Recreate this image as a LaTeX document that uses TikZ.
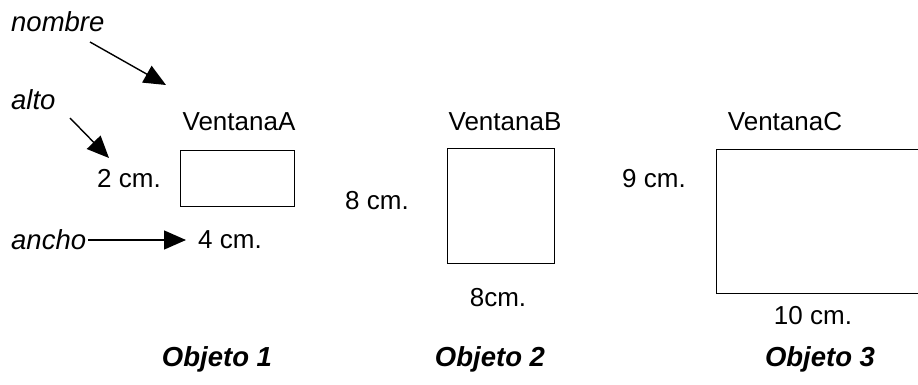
\documentclass[tikz,border=0pt]{standalone}
\usepackage{fontspec}
\setmainfont{Liberation Sans}
\usetikzlibrary{arrows.meta}
\begin{document}
\begin{tikzpicture}[x=1pt,y=-1pt,
  lbl/.style={inner sep=0pt,font=\fontsize{26}{30}\selectfont},
  ilbl/.style={inner sep=0pt,font=\fontsize{27.5}{30}\selectfont\itshape},
  obj/.style={inner sep=0pt,font=\fontsize{27.5}{30}\selectfont\bfseries\itshape},
  win/.style={draw,line width=1.4pt,inner sep=0pt,anchor=north west},
  arr/.style={line width=1.4pt,-{Triangle[length=22pt,width=19pt]}}]
\useasboundingbox (0,0) rectangle (918,385);
\clip (0,0) rectangle (918,385);
\fill[white] (0,0) rectangle (918,385);
% labels on the left
\node[ilbl,anchor=west] (nombre) at (11,22) {nombre};
\node[ilbl,anchor=west] (alto) at (11,100) {alto};
\node[ilbl,anchor=west] (ancho) at (11,240) {ancho};
% window A
\node[lbl] (nA) at (239,122) {VentanaA};
\node[win,minimum width=114pt,minimum height=56pt] (bA) at (180,150) {};
\node[lbl,anchor=west] (hA) at (97,179) {2 cm.};
\node[lbl,anchor=west] (wA) at (198,240) {4 cm.};
% window B
\node[lbl] (nB) at (505,122) {VentanaB};
\node[win,minimum width=107pt,minimum height=115pt] (bB) at (447,148) {};
\node[lbl,anchor=west] (hB) at (345,201) {8 cm.};
\node[lbl] (wB) at (498,298) {8cm.};
% window C
\node[lbl] (nC) at (785,122) {VentanaC};
\node[win,minimum width=230pt,minimum height=144pt] (bC) at (716,149) {};
\node[lbl,anchor=west] (hC) at (622,179) {9 cm.};
\node[lbl] (wC) at (813,316) {10 cm.};
% objects
\node[obj] (o1) at (217,359) {Objeto 1};
\node[obj] (o2) at (490,359) {Objeto 2};
\node[obj] (o3) at (820,359) {Objeto 3};
% arrows
\coordinate (n0) at (90,42);
\coordinate (n1) at (166,85);
\coordinate (a0) at (70,118);
\coordinate (a1) at (109,158);
\coordinate (c1) at (186,240);
\draw[arr] (n0) -- (n1);
\draw[arr] (a0) -- (a1);
\draw[arr] ([xshift=2pt]ancho.east) -- (c1);
\end{tikzpicture}
\end{document}
